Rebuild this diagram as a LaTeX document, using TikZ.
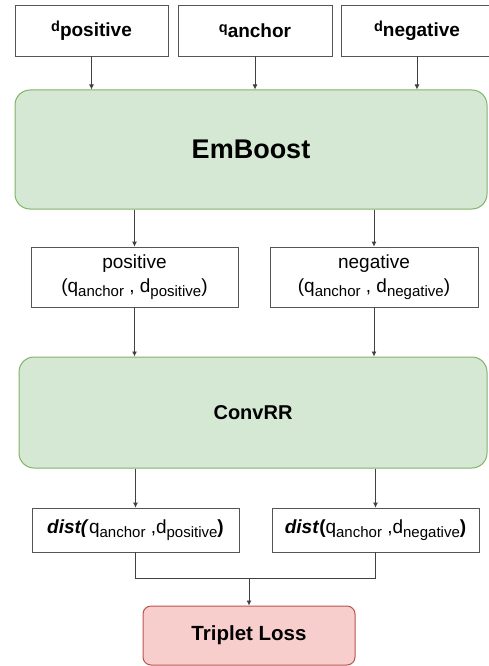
\documentclass[tikz,border=0pt]{standalone}
\usepackage{fontspec}
\setmainfont{Liberation Sans}
\usetikzlibrary{arrows.meta,calc}
\definecolor{gfill}{HTML}{D5E8D4}
\definecolor{gline}{HTML}{82B366}
\definecolor{rfill}{HTML}{F8CECC}
\definecolor{rline}{HTML}{B85450}
\definecolor{bline}{HTML}{555555}
\newcommand{\TopLbl}[2]{\bfseries{\fontsize{14.5}{14.5}\selectfont #1}\raisebox{-5pt}{\fontsize{19}{19}\selectfont #2}}
\newcommand{\Sb}[1]{\raisebox{-4pt}{\fontsize{15}{15}\selectfont #1}}
\tikzset{
  wbox/.style={draw=bline, line width=0.8pt, fill=white, inner sep=0pt, align=center},
  gbox/.style={draw=gline, line width=1pt, fill=gfill, rounded corners=15pt, inner sep=0pt, align=center, font=\bfseries},
  rbox/.style={draw=rline, line width=1pt, fill=rfill, rounded corners=8pt, inner sep=0pt, align=center, font=\bfseries},
  arr/.style={draw=black!75, line width=0.8pt, -{Latex[length=5pt,width=5pt]}},
  ln/.style={draw=black!75, line width=0.8pt}
}
\begin{document}
\begin{tikzpicture}[x=1pt,y=-1pt]
\useasboundingbox (0,0) rectangle (489,666);
\clip (0,0) rectangle (489,666);
% top inputs
\node[wbox, minimum width=153pt, minimum height=51pt] (dpos) at (91.5,30.5) {\TopLbl{d}{positive}};
\node[wbox, minimum width=154pt, minimum height=51pt] (qanc) at (255,30.5) {\TopLbl{q}{anchor}};
\node[wbox, minimum width=152pt, minimum height=51pt] (dneg) at (417,30.5) {\TopLbl{d}{negative}};
% EmBoost
\node[gbox, minimum width=472pt, minimum height=119pt] (emb) at (251,149.5) {\fontsize{27}{27}\selectfont EmBoost};
% pairs
\node[wbox, minimum width=207pt, minimum height=60pt, font=\fontsize{19}{24}\selectfont] (pos) at (134.5,277) {positive\\(q\Sb{anchor} , d\Sb{positive})};
\node[wbox, minimum width=208pt, minimum height=60pt, font=\fontsize{19}{24}\selectfont] (neg) at (374,277) {negative\\(q\Sb{anchor} , d\Sb{negative})};
% ConvRR
\node[gbox, minimum width=468pt, minimum height=111pt] (conv) at (253,412.5) {\fontsize{20}{20}\selectfont ConvRR};
% distances
\node[wbox, minimum width=207pt, minimum height=44pt] (distp) at (135.5,530) {\fontsize{19}{19}\selectfont\textbf{\textit{dist(}}q\Sb{anchor} ,d\Sb{positive}\textbf{)}};
\node[wbox, minimum width=207pt, minimum height=44pt] (distn) at (375.5,530) {\fontsize{19}{19}\selectfont\textbf{\textit{dist}(}q\Sb{anchor} ,d\Sb{negative}\textbf{)}};
% loss
\node[rbox, minimum width=212pt, minimum height=59pt] (trip) at (249,635.5) {\fontsize{20.5}{20.5}\selectfont Triplet Loss};
% connectors
\draw[arr] (dpos.south) -- (dpos.south |- emb.north);
\draw[arr] (qanc.south) -- (qanc.south |- emb.north);
\draw[arr] (dneg.south) -- (dneg.south |- emb.north);
\draw[arr] (pos.north |- emb.south) -- (pos.north);
\draw[arr] (neg.north |- emb.south) -- (neg.north);
\draw[arr] (pos.south) -- (pos.south |- conv.north);
\draw[arr] (neg.south) -- (neg.south |- conv.north);
\draw[arr] (distp.north |- conv.south) -- (distp.north);
\draw[arr] (distn.north |- conv.south) -- (distn.north);
\coordinate (mj) at ($(trip.north)+(0,-27)$);
\draw[ln] (distp.south) |- (mj) -| (distn.south);
\draw[arr] (mj) -- (trip.north);
\end{tikzpicture}
\end{document}
